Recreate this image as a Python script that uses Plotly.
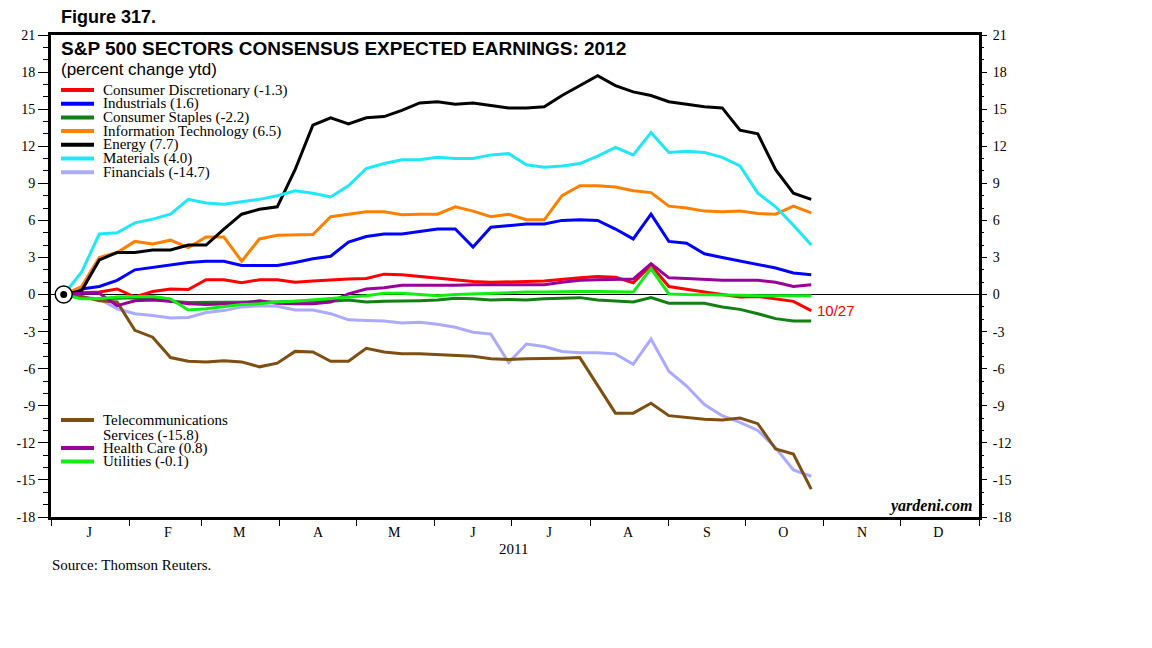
import pandas as pd
import plotly.graph_objects as go

# ---------------- data (weekly, % change ytd) ----------------
dates = pd.date_range("2011-01-06", "2011-10-27", freq="7D")

cons_disc = [0, 0.15, 0.2, 0.45, -0.2, 0.25, 0.45, 0.4, 1.2, 1.2, 0.95, 1.2, 1.2, 1.0, 1.1,
             1.2, 1.25, 1.3, 1.65, 1.6, 1.45, 1.35, 1.15, 1.05, 1.0, 1.0, 1.05, 1.1, 1.25, 1.35,
             1.45, 1.4, 0.95, 2.35, 0.65, 0.4, 0.2, 0.0, -0.2, -0.15, -0.35, -0.55, -1.3]
industrials = [0, 0.45, 0.65, 1.15, 2.0, 2.2, 2.45, 2.6, 2.7, 2.7, 2.35, 2.35, 2.35, 2.6, 2.9, 3.1,
               4.25, 4.7, 4.9, 4.9, 5.1, 5.3, 5.3, 3.85, 5.45, 5.55, 5.7, 5.7, 6.0, 6.05,
               6.0, 5.3, 4.5, 6.5, 4.3, 4.15, 3.3, 3.0, 2.7, 2.45, 2.15, 1.75, 1.6]
cons_staples = [0, -0.3, -0.35, -0.3, -0.25, -0.3, -0.55, -0.65, -0.65, -0.65, -0.6, -0.6, -0.6, -0.55, -0.55, -0.55,
                -0.45, -0.6, -0.55, -0.55, -0.5, -0.45, -0.3, -0.35, -0.45, -0.4, -0.45, -0.35, -0.3, -0.25,
                -0.45, -0.55, -0.6, -0.25, -0.7, -0.7, -0.7, -1.0, -1.2, -1.55, -1.95, -2.15, -2.15]
info_tech = [0, 0.65, 3.0, 3.4, 4.3, 4.1, 4.4, 3.8, 4.65, 4.65, 2.7, 4.5, 4.8, 4.85, 4.85,
             6.3, 6.5, 6.7, 6.7, 6.45, 6.5, 6.5, 7.1, 6.75, 6.3, 6.5, 6.05, 6.05, 8.0, 8.8,
             8.8, 8.7, 8.4, 8.25, 7.15, 7.0, 6.75, 6.7, 6.75, 6.55, 6.5, 7.15, 6.6]
energy = [0, 0.3, 2.8, 3.4, 3.4, 3.6, 3.6, 4.0, 4.0, 5.3, 6.5, 6.9, 7.1,
          10.1, 13.7, 14.3, 13.8, 14.3, 14.4, 14.9, 15.5, 15.6, 15.4, 15.5, 15.3, 15.1, 15.1, 15.2, 16.1, 16.9,
          17.7, 16.9, 16.4, 16.1, 15.6, 15.4, 15.2, 15.1, 13.3, 13.0, 10.1, 8.2, 7.7]
materials = [0, 1.8, 4.9, 5.0, 5.8, 6.1, 6.5, 7.7, 7.4, 7.3, 7.5, 7.7, 8.0, 8.4, 8.2, 7.9,
             8.8, 10.2, 10.6, 10.9, 10.9, 11.1, 11.0, 11.0, 11.3, 11.4, 10.5, 10.3, 10.4, 10.6,
             11.2, 11.9, 11.3, 13.1, 11.5, 11.6, 11.5, 11.1, 10.4, 8.2, 7.1, 5.6, 4.0]
financials = [0, -0.2, -0.35, -1.15, -1.55, -1.7, -1.9, -1.85, -1.45, -1.3, -1.0, -0.9, -0.95, -1.25, -1.25, -1.55,
              -2.05, -2.1, -2.15, -2.3, -2.25, -2.4, -2.65, -3.05, -3.2, -5.5, -4.0, -4.2, -4.6, -4.7,
              -4.7, -4.8, -5.65, -3.6, -6.2, -7.4, -8.9, -9.8, -10.35, -11.0, -12.4, -14.2, -14.7]
telecom = [0, -0.15, -0.5, -0.6, -2.9, -3.45, -5.1, -5.4, -5.45, -5.35, -5.45, -5.85, -5.55, -4.6, -4.65, -5.4,
           -5.4, -4.35, -4.65, -4.8, -4.8, -4.85, -4.9, -5.0, -5.2, -5.25, -5.2, -5.2, -5.15, -5.1,
           -7.35, -9.6, -9.6, -8.8, -9.8, -9.95, -10.1, -10.15, -10.0, -10.45, -12.5, -12.9, -15.75]
health_care = [0, 0.1, 0.1, -0.9, -0.5, -0.45, -0.55, -0.75, -0.8, -0.75, -0.7, -0.5, -0.7, -0.75, -0.75, -0.6,
               0.05, 0.45, 0.55, 0.75, 0.75, 0.7, 0.75, 0.8, 0.8, 0.8, 0.8, 0.8, 1.0, 1.15,
               1.2, 1.25, 1.25, 2.5, 1.35, 1.3, 1.2, 1.15, 1.15, 1.15, 1.0, 0.65, 0.8]
utilities = [0, -0.35, -0.35, -0.2, -0.15, -0.15, -0.35, -1.25, -1.15, -0.95, -0.8, -0.75, -0.6, -0.55, -0.45, -0.35,
             -0.2, -0.1, 0.1, 0.1, 0.0, -0.1, 0.0, 0.05, 0.15, 0.2, 0.2, 0.2, 0.25, 0.25,
             0.25, 0.2, 0.2, 2.1, 0.05, 0.0, 0.0, -0.05, -0.05, -0.1, -0.1, -0.1, -0.1]

labels_top = ["Consumer Discretionary (-1.3)", "Industrials (1.6)", "Consumer Staples (-2.2)",
              "Information Technology (6.5)", "Energy (7.7)", "Materials (4.0)", "Financials (-14.7)"]
labels_bottom = ["Telecommunications<br>Services (-15.8)", "Health Care (0.8)", "Utilities (-0.1)"]

month_letters = ["J", "F", "M", "A", "M", "J", "J", "A", "S", "O", "N", "D"]
month_mid = [f"2011-{m:02d}-16" for m in range(1, 13)]
y_ticks = list(range(-18, 22, 3))
y_ticktext = [str(v) for v in y_ticks]

# ---------------- styling ----------------
top_series = [cons_disc, industrials, cons_staples, info_tech, energy, materials, financials]
top_colors = ["#ff0000", "#0000ff", "#138013", "#ff8000", "#000000", "#1ee8f8", "#aaaaff"]
bot_series = [telecom, health_care, utilities]
bot_colors = ["#7f4f12", "#990099", "#11ee11"]

W, H = 1152, 648
OFF_X, OFF_Y = 7, 8  # page offset in the browser
L, R, T, B = 50, 978, 35, 517  # plot area in screenshot pixels


def px(x):
    return (x - L) / (R - L)


def py(y):
    return (B - y) / (B - T)


SERIF = "Liberation Serif"
SANS = "Liberation Sans"

fig = go.Figure()
for s, c in zip(top_series + bot_series, top_colors + bot_colors):
    fig.add_trace(go.Scatter(x=dates, y=s, mode="lines", line=dict(color=c, width=3),
                             showlegend=False, hoverinfo="skip"))

# start marker
fig.add_trace(go.Scatter(x=[dates[0]], y=[energy[0]], mode="markers", showlegend=False, hoverinfo="skip",
                         marker=dict(symbol="circle", size=17, color="white", line=dict(color="black", width=1.5))))
fig.add_trace(go.Scatter(x=[dates[0]], y=[energy[0]], mode="markers", showlegend=False, hoverinfo="skip",
                         marker=dict(symbol="circle", size=7, color="black")))
# right axis carrier
fig.add_trace(go.Scatter(x=[dates[0]], y=[energy[0]], yaxis="y2", mode="markers", showlegend=False,
                         hoverinfo="skip", marker=dict(opacity=0)))

shapes = []
annotations = []

# manual legend (top)
row_y = [90, 103.7, 117.4, 131.1, 144.8, 158.5, 172.2]
for yy, lab, c in zip(row_y, labels_top, top_colors):
    shapes.append(dict(type="line", xref="paper", yref="paper", x0=px(60), x1=px(93), y0=py(yy), y1=py(yy),
                       line=dict(color=c, width=4)))
    annotations.append(dict(xref="paper", yref="paper", x=px(100), y=py(yy), text=lab, showarrow=False,
                            xanchor="left", yanchor="middle", font=dict(family=SERIF, size=15, color="black")))
# manual legend (bottom)
row_y2 = [420, 448, 461.5]
for yy, lab, c in zip(row_y2, labels_bottom, bot_colors):
    shapes.append(dict(type="line", xref="paper", yref="paper", x0=px(60), x1=px(93), y0=py(yy), y1=py(yy),
                       line=dict(color=c, width=4)))
    for k, part in enumerate(lab.split("<br>")):
        annotations.append(dict(xref="paper", yref="paper", x=px(100), y=py(yy + 16 * k), text=part,
                                showarrow=False, xanchor="left", yanchor="middle",
                                font=dict(family=SERIF, size=15, color="black")))

# titles
annotations += [
    dict(xref="paper", yref="paper", x=px(58), y=py(17), text="<b>Figure 317.</b>", showarrow=False,
         xanchor="left", yanchor="middle", font=dict(family=SANS, size=18, color="black")),
    dict(xref="paper", yref="paper", x=px(58), y=py(48), text="<b>S&P 500 SECTORS CONSENSUS EXPECTED EARNINGS: 2012</b>",
         showarrow=False, xanchor="left", yanchor="middle", font=dict(family=SANS, size=19, color="black")),
    dict(xref="paper", yref="paper", x=px(58), y=py(70), text="(percent change ytd)", showarrow=False,
         xanchor="left", yanchor="middle", font=dict(family=SANS, size=17, color="black")),
    dict(x=dates[-1], y=cons_disc[-1], text="10/27", showarrow=False, xanchor="left", yanchor="middle",
         xshift=4, font=dict(family=SANS, size=15, color="#ff0000")),
    dict(xref="paper", yref="paper", x=px(973), y=py(506), text="<b><i>yardeni.com</i></b>", showarrow=False,
         xanchor="right", yanchor="middle", font=dict(family=SERIF, size=16, color="black")),
    dict(xref="paper", yref="paper", x=px(49), y=py(565), text="Source: Thomson Reuters.", showarrow=False,
         xanchor="left", yanchor="middle", font=dict(family=SERIF, size=15, color="black")),
    dict(x="2011-07-02", xref="x", yref="paper", y=py(549), text="2011", showarrow=False,
         xanchor="center", yanchor="middle", font=dict(family=SERIF, size=15, color="black")),
]

fig.update_layout(
    width=W, height=H,
    margin=dict(l=L - OFF_X, r=W - R + OFF_X, t=T - OFF_Y, b=H - B + OFF_Y, pad=0, autoexpand=False),
    paper_bgcolor="white", plot_bgcolor="white",
    showlegend=False,
    shapes=shapes, annotations=annotations,
    xaxis=dict(type="date", range=["2011-01-01", "2012-01-01"], automargin=False,
               tickmode="array", tickvals=month_mid, ticktext=month_letters, ticks="",
               tickfont=dict(family=SERIF, size=14, color="black"),
               showline=True, linewidth=3, linecolor="black", mirror=True, showgrid=False, zeroline=False,
               minor=dict(ticks="outside", ticklen=6, tickwidth=1, tickcolor="black",
                          tick0="2011-01-01", dtick="M1", showgrid=False)),
    yaxis=dict(range=[-18, 21], tickmode="array", tickvals=y_ticks, ticktext=y_ticktext, automargin=False,
               ticks="outside", ticklen=10, tickwidth=1, tickcolor="black",
               tickfont=dict(family=SERIF, size=14, color="black"),
               showline=True, linewidth=3, linecolor="black", mirror=True, showgrid=False,
               zeroline=True, zerolinecolor="black", zerolinewidth=1,
               minor=dict(ticks="outside", ticklen=5, tickwidth=1, tickcolor="black", dtick=1, showgrid=False)),
    yaxis2=dict(range=[-18, 21], overlaying="y", side="right", anchor="x", automargin=False,
                tickmode="array", tickvals=y_ticks, ticktext=y_ticktext,
                ticks="outside", ticklen=7, tickwidth=1, tickcolor="black", ticklabelstandoff=3,
                tickfont=dict(family=SERIF, size=14, color="black"),
                showline=False, showgrid=False, zeroline=False,
                minor=dict(ticks="outside", ticklen=4, tickwidth=1, tickcolor="black", dtick=1, showgrid=False)),
)

fig.write_html("out.html")
